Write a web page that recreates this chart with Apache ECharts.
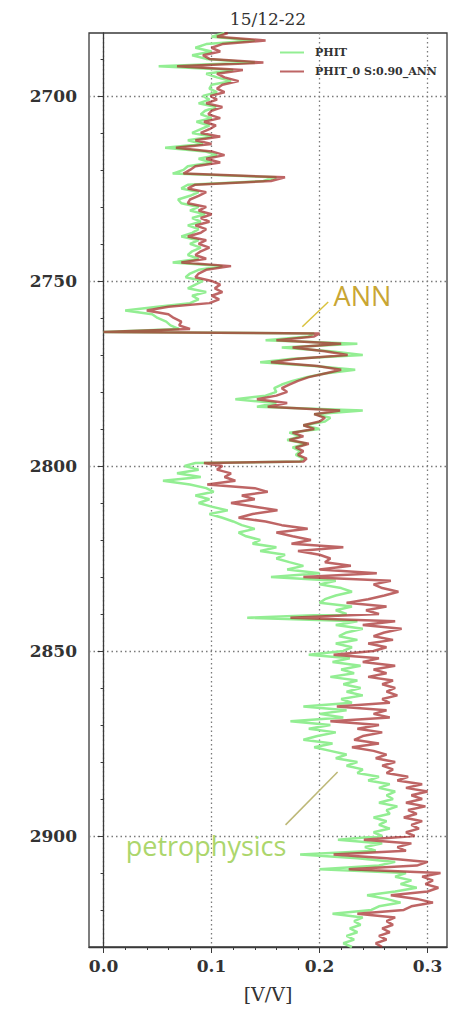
<!DOCTYPE html>
<html>
<head>
<meta charset="utf-8">
<script src="https://cdn.jsdelivr.net/npm/echarts@6/dist/echarts.min.js"></script>
<style>
html, body { margin: 0; padding: 0; background: #ffffff; }
#chart { width: 459px; height: 1009px; }
</style>
</head>
<body>
<div id="chart"></div>
<script>
// Well 15/12-22: total porosity log against measured depth (m)
const depth = [
  2683, 2684, 2685, 2686, 2687, 2688, 2689, 2690, 2691, 2692,
  2693, 2694, 2695, 2696, 2697, 2698, 2699, 2700, 2701, 2702,
  2703, 2704, 2705, 2706, 2707, 2708, 2709, 2710, 2711, 2712,
  2713, 2714, 2715, 2716, 2717, 2718, 2719, 2720, 2721, 2722,
  2723, 2724, 2725, 2726, 2727, 2728, 2729, 2730, 2731, 2732,
  2733, 2734, 2735, 2736, 2737, 2738, 2739, 2740, 2741, 2742,
  2743, 2744, 2745, 2746, 2747, 2748, 2749, 2750, 2751, 2752,
  2753, 2754, 2755, 2756, 2757, 2758, 2759, 2760, 2761, 2762,
  2763, 2763.8, 2764.2, 2765, 2766, 2767, 2768, 2769, 2770, 2771, 2772,
  2773, 2774, 2775, 2776, 2777, 2778, 2779, 2780, 2781, 2782,
  2783, 2784, 2785, 2786, 2787, 2788, 2789, 2790, 2791, 2792,
  2793, 2794, 2795, 2796, 2797, 2798, 2798.8, 2799.2, 2800, 2801, 2802,
  2803, 2804, 2805, 2806, 2807, 2808, 2809, 2810, 2811, 2812,
  2813, 2814, 2815, 2816, 2817, 2818, 2819, 2820, 2821, 2822,
  2823, 2824, 2825, 2826, 2827, 2828, 2829, 2830, 2831, 2832,
  2833, 2834, 2835, 2836, 2837, 2838, 2839, 2840, 2841, 2842,
  2843, 2844, 2845, 2846, 2847, 2848, 2849, 2850, 2851, 2852,
  2853, 2854, 2855, 2856, 2857, 2858, 2859, 2860, 2861, 2862,
  2863, 2864, 2865, 2866, 2867, 2868, 2869, 2870, 2871, 2872,
  2873, 2874, 2875, 2876, 2877, 2878, 2879, 2880, 2881, 2882,
  2883, 2884, 2885, 2886, 2887, 2888, 2889, 2890, 2891, 2892,
  2893, 2894, 2895, 2896, 2897, 2898, 2899, 2900, 2901, 2902,
  2903, 2904, 2905, 2906, 2907, 2908, 2909, 2910, 2911, 2912,
  2913, 2914, 2915, 2916, 2917, 2918, 2919, 2920, 2921, 2922,
  2923, 2924, 2925, 2926, 2927, 2928, 2929, 2930
];

// PHIT from the petrophysical interpretation [V/V]
const phit = [
  0.112, 0.100, 0.140, 0.095, 0.085, 0.100, 0.082, 0.095, 0.140, 0.051,
  0.120, 0.095, 0.105, 0.118, 0.100, 0.098, 0.105, 0.092, 0.098, 0.088,
  0.104, 0.094, 0.090, 0.100, 0.086, 0.098, 0.090, 0.082, 0.100, 0.078,
  0.092, 0.057, 0.094, 0.105, 0.088, 0.100, 0.078, 0.074, 0.064, 0.160,
  0.148, 0.078, 0.072, 0.088, 0.080, 0.069, 0.072, 0.088, 0.080, 0.094,
  0.082, 0.090, 0.078, 0.088, 0.082, 0.072, 0.088, 0.080, 0.090, 0.082,
  0.078, 0.088, 0.064, 0.110, 0.088, 0.080, 0.076, 0.092, 0.085, 0.078,
  0.095, 0.082, 0.088, 0.080, 0.050, 0.020, 0.045, 0.050, 0.058, 0.062,
  0.070, 0.000, 0.195, 0.190, 0.150, 0.235, 0.165, 0.210, 0.240, 0.175, 0.145,
  0.195, 0.233, 0.205, 0.188, 0.175, 0.165, 0.158, 0.160, 0.150, 0.122,
  0.160, 0.142, 0.240, 0.195, 0.210, 0.205, 0.185, 0.200, 0.172, 0.182,
  0.170, 0.188, 0.175, 0.182, 0.178, 0.185, 0.182, 0.085, 0.075, 0.088, 0.068,
  0.090, 0.055, 0.080, 0.095, 0.102, 0.085, 0.098, 0.088, 0.100, 0.115,
  0.098, 0.110, 0.120, 0.128, 0.140, 0.125, 0.132, 0.145, 0.138, 0.160,
  0.145, 0.168, 0.160, 0.172, 0.185, 0.170, 0.200, 0.155, 0.215, 0.200,
  0.220, 0.230, 0.215, 0.205, 0.200, 0.230, 0.215, 0.225, 0.133, 0.235,
  0.215, 0.240, 0.225, 0.218, 0.235, 0.215, 0.230, 0.222, 0.190, 0.228,
  0.212, 0.238, 0.220, 0.232, 0.210, 0.235, 0.222, 0.238, 0.225, 0.240,
  0.220, 0.230, 0.185, 0.225, 0.200, 0.222, 0.173, 0.210, 0.190, 0.215,
  0.198, 0.185, 0.212, 0.195, 0.210, 0.225, 0.215, 0.235, 0.225, 0.240,
  0.235, 0.255, 0.245, 0.265, 0.255, 0.270, 0.262, 0.268, 0.255, 0.272,
  0.262, 0.265, 0.250, 0.262, 0.255, 0.265, 0.250, 0.258, 0.217, 0.258,
  0.242, 0.252, 0.182, 0.235, 0.270, 0.255, 0.200, 0.280, 0.270, 0.285,
  0.275, 0.290, 0.270, 0.244, 0.262, 0.275, 0.255, 0.248, 0.212, 0.240,
  0.232, 0.238, 0.228, 0.235, 0.225, 0.232, 0.222, 0.230
];

// PHIT predicted by the neural network [V/V]
const phitAnn = [
  0.115, 0.105, 0.150, 0.110, 0.100, 0.108, 0.092, 0.098, 0.148, 0.068,
  0.129, 0.105, 0.112, 0.125, 0.110, 0.105, 0.112, 0.099, 0.105, 0.095,
  0.110, 0.100, 0.097, 0.108, 0.093, 0.104, 0.098, 0.090, 0.108, 0.085,
  0.100, 0.067, 0.100, 0.112, 0.095, 0.108, 0.085, 0.080, 0.074, 0.168,
  0.155, 0.085, 0.078, 0.095, 0.088, 0.080, 0.078, 0.095, 0.088, 0.100,
  0.090, 0.098, 0.085, 0.095, 0.090, 0.078, 0.095, 0.088, 0.098, 0.090,
  0.085, 0.095, 0.072, 0.118, 0.095, 0.088, 0.085, 0.100, 0.108, 0.103,
  0.110, 0.100, 0.107, 0.098, 0.060, 0.040, 0.060, 0.065, 0.072, 0.070,
  0.080, 0.000, 0.200, 0.195, 0.160, 0.220, 0.175, 0.205, 0.226, 0.180, 0.155,
  0.198, 0.220, 0.205, 0.190, 0.180, 0.172, 0.165, 0.170, 0.160, 0.142,
  0.170, 0.152, 0.219, 0.195, 0.205, 0.200, 0.185, 0.195, 0.175, 0.185,
  0.172, 0.190, 0.178, 0.185, 0.180, 0.188, 0.185, 0.093, 0.110, 0.105, 0.118,
  0.112, 0.122, 0.096, 0.140, 0.152, 0.128, 0.140, 0.118, 0.140, 0.161,
  0.138, 0.125, 0.150, 0.165, 0.189, 0.160, 0.175, 0.192, 0.174, 0.222,
  0.180, 0.200, 0.210, 0.205, 0.229, 0.200, 0.253, 0.185, 0.266, 0.250,
  0.258, 0.273, 0.260, 0.245, 0.225, 0.262, 0.243, 0.255, 0.173, 0.270,
  0.240, 0.276, 0.260, 0.250, 0.268, 0.245, 0.262, 0.250, 0.213, 0.255,
  0.240, 0.270, 0.250, 0.262, 0.245, 0.268, 0.258, 0.270, 0.262, 0.272,
  0.258, 0.265, 0.216, 0.262, 0.250, 0.265, 0.210, 0.255, 0.235, 0.258,
  0.240, 0.232, 0.255, 0.230, 0.250, 0.262, 0.252, 0.270, 0.258, 0.268,
  0.262, 0.282, 0.272, 0.295, 0.280, 0.300, 0.285, 0.295, 0.280, 0.298,
  0.282, 0.290, 0.278, 0.295, 0.285, 0.292, 0.280, 0.288, 0.241, 0.285,
  0.272, 0.280, 0.213, 0.262, 0.300, 0.290, 0.227, 0.312, 0.295, 0.305,
  0.298, 0.310, 0.300, 0.266, 0.290, 0.305, 0.285, 0.278, 0.235, 0.270,
  0.262, 0.268, 0.258, 0.265, 0.255, 0.262, 0.252, 0.258
];

const seriesNames = ['PHIT', 'PHIT_0 S:0.90_ANN'];
const depthTicks = [2700, 2750, 2800, 2850, 2900];
const depthMinorTicks = [2690, 2700, 2710, 2720, 2730, 2740, 2750, 2760, 2770, 2780,
  2790, 2800, 2810, 2820, 2830, 2840, 2850, 2860, 2870, 2880, 2890, 2900, 2910, 2920, 2930];
const phiTicks = [0.0, 0.1, 0.2, 0.3];
const phiMinorTicks = [0.0, 0.02, 0.04, 0.06, 0.08, 0.1, 0.12, 0.14, 0.16, 0.18,
  0.2, 0.22, 0.24, 0.26, 0.28, 0.3];

// callout labels, anchored in data coordinates [porosity, depth]
const callouts = [
  { text: 'ANN', color: '#c9a634', lineColor: '#d9c23e',
    textAt: [0.213, 2754.0], from: [0.184, 2762.4], to: [0.208, 2755.7] },
  { text: 'petrophysics', color: '#acd66c', lineColor: '#bdb877',
    textAt: [0.0205, 2902.6], from: [0.1685, 2897.0], to: [0.2167, 2882.7] }
];

const serif = "'DejaVu Serif', serif";
const axisColor = '#3a3a3a';

const chart = echarts.init(document.getElementById('chart'), null, { renderer: 'svg' });

const pairs = (vals) => vals.map((v, i) => [v, depth[i]]);

const option = {
  animation: false,
  backgroundColor: '#ffffff',
  grid: { left: 89, right: 12, top: 33, bottom: 62, show: true,
          borderColor: axisColor, borderWidth: 1.3, backgroundColor: 'transparent' },
  legend: {
    left: 275, top: 41, orient: 'vertical', itemGap: 6, itemWidth: 24, itemHeight: 2,
    icon: 'rect',
    data: seriesNames,
    textStyle: { fontFamily: serif, fontSize: 11, fontWeight: 'bold', color: '#333',
                 lineHeight: 13, padding: [0, 0, 0, 6] }
  },
  xAxis: [{
    type: 'value', min: -0.0135, max: 0.318, position: 'bottom',
    name: '[V/V]', nameLocation: 'middle', nameGap: 37,
    nameTextStyle: { fontFamily: serif, fontSize: 19, color: '#333' },
    axisLine: { show: true, lineStyle: { color: axisColor, width: 1.3 } },
    axisTick: { show: true, customValues: phiTicks, length: 6, lineStyle: { color: axisColor } },
    axisLabel: { customValues: phiTicks, margin: 10, formatter: (v) => v.toFixed(1),
                 fontFamily: serif, fontSize: 17, fontWeight: 'bold', color: '#333' },
    splitLine: { show: true, lineStyle: { color: '#7a7a7a', type: [1.5, 3], width: 1.3 } }
  }, {
    type: 'value', min: -0.0135, max: 0.318, position: 'bottom',
    axisLine: { show: false }, axisLabel: { show: false }, splitLine: { show: false },
    axisTick: { show: true, customValues: phiMinorTicks, length: 3, lineStyle: { color: axisColor } }
  }],
  yAxis: [{
    type: 'value', inverse: true, min: 2683, max: 2930, position: 'left',
    axisLine: { show: true, lineStyle: { color: axisColor, width: 1.3 } },
    axisTick: { show: true, customValues: depthTicks, length: 6, lineStyle: { color: axisColor } },
    axisLabel: { customValues: depthTicks, margin: 12, formatter: (v) => String(v),
                 fontFamily: serif, fontSize: 17, fontWeight: 'bold', color: '#333' },
    splitLine: { show: true, lineStyle: { color: '#7a7a7a', type: [1.5, 3], width: 1.3 } }
  }, {
    type: 'value', inverse: true, min: 2683, max: 2930, position: 'left',
    axisLine: { show: false }, axisLabel: { show: false }, splitLine: { show: false },
    axisTick: { show: true, customValues: depthMinorTicks, length: 3, lineStyle: { color: axisColor } }
  }],
  series: [
    { name: seriesNames[0], type: 'line', data: pairs(phit), xAxisIndex: 0, yAxisIndex: 0,
      showSymbol: false, symbol: 'none', color: '#93ee93',
      lineStyle: { width: 2.5 }, silent: true },
    { name: seriesNames[1], type: 'line', data: pairs(phitAnn), xAxisIndex: 0, yAxisIndex: 0,
      showSymbol: false, symbol: 'none', color: 'rgba(165,42,42,0.72)',
      lineStyle: { width: 2.5 }, silent: true }
  ]
};

chart.setOption(option);

// title and callouts placed once the grid has been laid out
const toPx = (p) => chart.convertToPixel({ xAxisIndex: 0, yAxisIndex: 0 }, p);
const topLeft = toPx([-0.0135, 2683]);
const bottomRight = toPx([0.318, 2930]);
const graphics = [{
  type: 'text', x: (topLeft[0] + bottomRight[0]) / 2, y: topLeft[1] - 14,
  style: { text: '15/12-22', fontFamily: serif, fontSize: 17, fill: '#333',
           textAlign: 'center', textVerticalAlign: 'middle' }
}];
callouts.forEach((c) => {
  const a = toPx(c.from), b = toPx(c.to), t = toPx(c.textAt);
  graphics.push({
    type: 'line', shape: { x1: a[0], y1: a[1], x2: b[0], y2: b[1] },
    style: { stroke: c.lineColor, lineWidth: 1.5 }, z: 10
  });
  graphics.push({
    type: 'text', x: t[0], y: t[1], z: 10,
    style: { text: c.text, fontFamily: "'Open Sans', sans-serif", fontSize: 27,
             fill: c.color, textAlign: 'left', textVerticalAlign: 'middle' }
  });
});
chart.setOption({ graphic: graphics });
</script>
</body>
</html>
